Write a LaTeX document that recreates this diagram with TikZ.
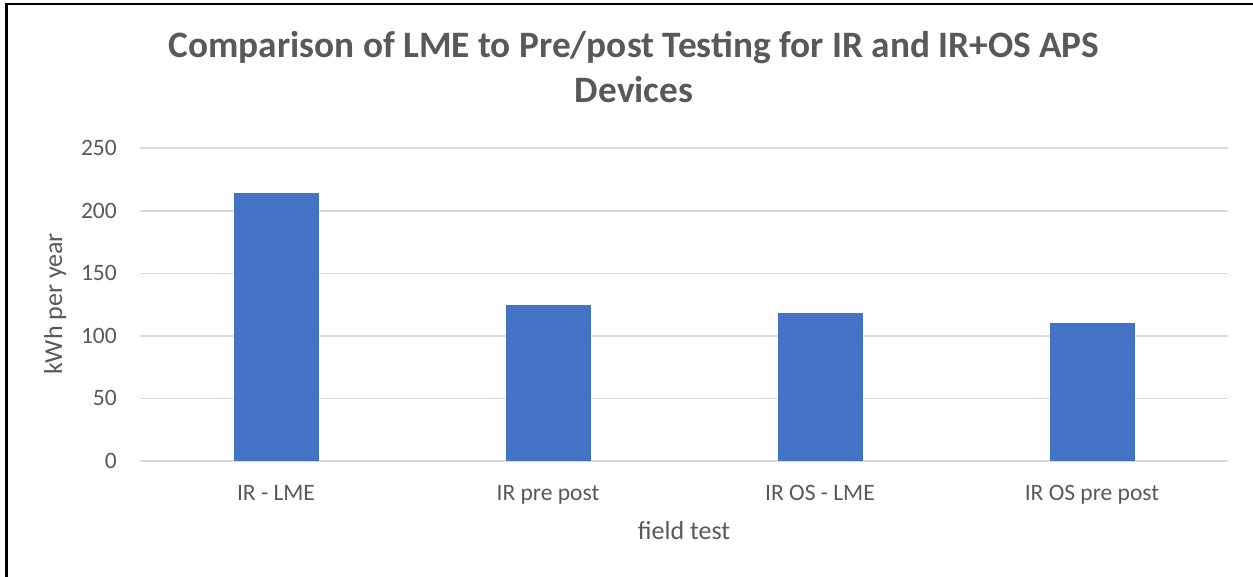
\documentclass[tikz,border=0pt]{standalone}
\usepackage{fontspec}
\setmainfont{Carlito}
\definecolor{txtgray}{HTML}{595959}
\definecolor{gridgray}{HTML}{D9D9D9}
\definecolor{barblue}{HTML}{4472C4}
\tikzset{
  ticklabel/.style={text=txtgray, font=\fontsize{23.5}{28}\selectfont, inner sep=0pt},
  axistitle/.style={text=txtgray, font=\fontsize{26}{31}\selectfont, inner sep=0pt},
  charttitle/.style={text=txtgray, font=\fontsize{37.3}{44}\selectfont\bfseries, inner sep=0pt},
  gridline/.style={draw=gridgray, line width=1.6pt},
  barbox/.style={fill=barblue, draw=none}
}
\begin{document}
\begin{tikzpicture}[x=1pt,y=-1pt]
\useasboundingbox (0,0) rectangle (1253,577);
\fill[white] (0,0) rectangle (1253,577);
% chart area border (left and top visible)
\coordinate (bl) at (6.7,577);
\coordinate (tl) at (6.7,4);
\coordinate (tr) at (1253,4);
\draw[line width=2.5pt] (bl) -- (tl) -- (tr);
% gridlines and tick labels
\foreach \v in {0,50,100,150,200,250}{
  \coordinate (gl\v) at (140,{461-\v*1.2512});
  \coordinate (gr\v) at (1228,{461-\v*1.2512});
  \draw[gridline] (gl\v) -- (gr\v);
  \node[ticklabel, anchor=east] (t\v) at (117,{461-\v*1.2512}) {\v};
}
% bars
\foreach \i/\val/\lab in {0/214/IR - LME, 1/125/IR pre post, 2/118/IR OS - LME, 3/110/IR OS pre post}{
  \pgfmathsetmacro{\cx}{276+272*\i}
  \fill[barbox] ({\cx-42.5},461) rectangle ({\cx+42.5},{461-\val*1.2512});
  \node[ticklabel, anchor=base] (c\i) at (\cx,500) {\lab};
}
% axis titles
\node[axistitle, anchor=base] (xtitle) at (684,539) {field test};
\node[axistitle, rotate=90, anchor=base] (ytitle) at (62,304) {kWh per year};
% chart title
\node[charttitle, anchor=base] (title1) at (634,58) {Comparison of LME to Pre/post Testing for IR and IR+OS APS};
\node[charttitle, anchor=base] (title2) at (634,103) {Devices};
\end{tikzpicture}
\end{document}
